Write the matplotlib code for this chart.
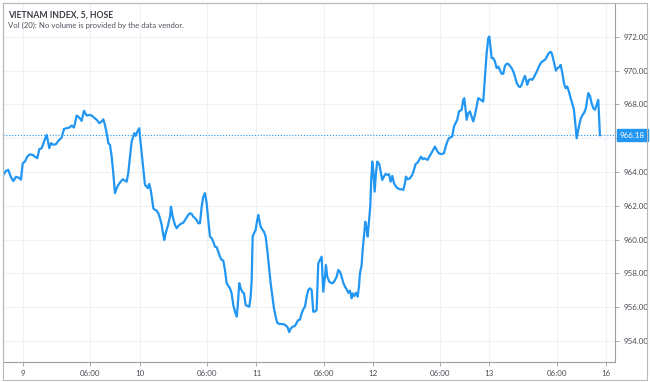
import matplotlib
matplotlib.use("Agg")
import matplotlib.pyplot as plt
from matplotlib.patches import Rectangle

# ---------------- data ----------------
title = "VIETNAM INDEX, 5, HOSE"
subtitle = "Vol (20): No volume is provided by the data vendor."
last_price = 966.18

# time in 5-minute bars (bar 0 = session open of the 9th)
t = [-8.08,-6.97,-6.03,-5.05,-3.98,-2.87,-1.76,-0.82,-0.12,0.82,1.76,2.87,3.98,4.92,5.87,6.69,7.67,8.62,9.72,10.79,
     11.49,12.43,13.54,14.48,15.88,16.82,17.93,19.0,19.98,20.92,22.03,23.10,24.08,25.03,26.13,27.20,28.18,29.13,30.24,31.30,
     32.29,32.94,33.64,34.59,35.0,35.69,36.39,37.05,37.74,38.44,39.10,40.08,40.90,41.85,42.54,43.20,43.90,44.59,45.25,45.66,
     46.24,46.89,47.71,48.0,48.70,49.35,50.05,50.75,51.16,51.81,52.39,52.92,53.46,54.15,54.85,55.51,56.21,56.90,57.56,57.97,
     58.54,59.36,60.31,60.72,61.42,62.36,63.06,63.71,64.70,65.76,66.46,67.16,67.82,68.51,69.21,69.87,70.56,71.26,71.92,72.62,
     73.31,73.97,74.67,75.36,76.02,76.72,77.41,78.07,78.77,79.47,80.12,80.82,81.52,82.18,82.87,83.57,84.23,84.92,85.62,86.28,
     86.97,87.67,88.08,88.74,89.31,89.97,90.67,91.36,92.18,92.84,93.41,93.83,94.24,94.77,95.47,95.88,96.53,96.94,97.52,98.17,
     98.87,99.57,100.23,100.92,101.62,102.28,102.97,103.67,104.33,105.15,106.13,107.08,107.90,108.59,109.25,109.83,110.65,111.59,112.29,112.95,
     113.64,114.34,115.0,115.69,116.39,117.05,117.74,118.44,119.10,119.79,120.49,121.15,121.85,122.54,123.20,123.90,124.31,124.84,125.66,126.65,
     127.30,128.0,128.70,129.36,130.05,130.75,131.41,132.10,132.80,133.46,134.15,134.85,135.26,135.92,136.62,137.31,137.85,138.26,138.95,139.36,
     139.90,140.43,141.01,141.42,141.95,142.48,142.89,143.30,143.71,144.29,144.82,145.35,146.17,146.87,147.41,148.10,148.80,149.46,150.15,150.85,
     151.51,152.21,153.03,153.73,154.67,155.37,156.03,156.72,157.13,157.83,158.77,159.72,160.41,161.11,161.93,162.59,163.28,163.98,164.64,165.33,
     166.03,166.69,167.38,168.33,169.03,169.72,170.38,171.08,172.03,172.72,173.42,174.08,174.77,175.47,176.13,176.82,177.52,178.18,178.87,179.57,
     179.98,180.64,181.05,181.62,182.03,182.69,183.38,184.08,184.74,185.44,186.13,186.79,187.49,188.18,188.84,189.54,190.24,190.90,191.31,191.87,
     192.29,192.95,193.64,194.34,195.0,195.69,196.39,197.05,197.74,198.44,199.10,199.79,200.49,201.15,201.85,202.54,203.20,203.90,204.59,205.25,
     205.95,206.36,206.89,207.59,208.29,208.95,209.64,210.34,211.0,211.69,212.39,213.05,213.74,214.44,215.10,215.79,216.49,216.90,217.31,217.97,
     218.67,219.36,220.02,220.59,221.25,221.95,222.64,223.30,224.0,224.69,225.35,226.05,226.46,226.87,227.16,227.57,228.23,228.92,229.62,230.28,
     230.97,231.51,231.92,232.62,233.31,233.97,234.67,235.36,236.03,236.72]

price = [963.83,964.07,964.13,963.73,963.47,963.71,963.67,963.55,964.52,964.62,964.91,965.05,965.01,964.91,964.82,965.35,965.41,965.80,966.20,965.41,
         965.71,965.61,965.65,965.84,966.04,966.55,966.59,966.63,966.75,966.63,967.34,967.22,967.03,967.62,967.34,967.38,967.34,967.22,967.09,966.89,
         967.00,967.12,966.79,966.10,965.71,965.61,964.91,963.93,962.75,963.04,963.24,963.43,963.57,963.49,963.43,963.93,964.91,965.80,966.10,966.30,
         966.14,966.39,966.59,966.10,965.11,964.13,963.24,963.14,963.04,963.30,962.94,962.45,961.86,961.76,961.72,961.56,961.27,960.87,960.28,959.98,
         960.38,960.77,961.36,961.95,961.36,960.87,960.67,960.81,960.93,961.00,961.16,961.32,961.46,961.56,961.52,961.36,961.27,961.16,960.97,960.97,
         961.95,962.54,962.75,962.15,961.16,960.18,960.08,959.88,959.58,959.55,959.29,958.99,958.80,958.76,958.20,957.42,957.26,957.12,956.82,956.13,
         955.74,955.44,956.03,957.42,957.12,956.92,956.82,956.13,956.07,956.03,956.62,957.61,960.18,960.38,960.57,960.97,961.46,961.16,960.77,960.61,
         960.47,960.18,959.39,958.40,957.42,956.72,955.94,955.44,955.08,955.01,955.01,954.99,954.91,954.81,954.53,954.73,954.85,954.89,955.08,955.24,
         955.27,955.64,955.88,956.03,956.62,957.02,957.12,957.02,955.74,955.74,955.84,958.60,958.80,958.99,956.92,957.81,958.50,957.81,957.51,957.42,
         957.45,957.61,957.81,958.20,958.10,957.81,957.45,957.22,957.06,956.86,956.98,956.53,956.82,956.66,956.86,956.62,957.22,958.01,958.50,959.39,
         960.18,961.06,960.67,960.18,961.06,961.95,963.53,964.62,964.13,962.84,963.93,964.62,964.48,963.93,963.53,963.73,963.89,963.83,963.87,963.43,
         963.77,963.34,963.14,963.04,962.98,962.98,962.94,963.34,963.73,963.57,963.63,963.83,964.13,964.48,964.56,964.72,964.91,964.76,964.82,964.76,
         964.72,964.91,965.07,965.31,965.50,965.31,965.15,965.07,965.07,965.11,965.50,965.80,966.00,966.06,966.10,966.69,966.89,967.09,967.58,967.64,
         967.68,968.27,968.37,967.68,967.09,967.48,967.58,967.28,966.99,967.38,967.87,968.37,968.31,968.23,968.17,969.65,971.04,971.92,972.02,971.33,
         970.74,970.74,970.54,970.15,970.24,970.02,969.81,969.81,970.28,970.40,970.40,970.28,970.15,969.95,969.65,969.29,969.10,969.02,969.16,969.45,
         969.69,969.50,969.16,969.45,969.50,969.45,969.61,969.81,970.00,970.24,970.44,970.54,970.60,970.68,970.88,971.04,971.11,971.04,970.83,970.44,
         970.00,970.15,970.21,970.34,969.89,969.26,968.96,969.06,968.76,968.37,968.07,967.68,967.09,966.49,966.00,966.30,966.79,967.19,967.38,967.52,
         967.78,968.27,968.67,968.51,968.07,967.78,967.68,967.97,968.27,966.18]

x_tick_pos = [0, 27.6, 47.9, 75.5, 95.8, 123.4, 143.6, 171.2, 191.4, 219.0, 239.2]
x_tick_labels = ["9", "06:00", "10", "06:00", "11", "06:00", "12", "06:00", "13", "06:00", "16"]
y_ticks = [954, 956, 958, 960, 962, 964, 966, 968, 970, 972]

# ---------------- style ----------------
W, H = 650, 382
LINE = "#2196f3"
GRID = "#eef1f6"
AXLINE = "#9b9ea6"
TXT = "#4a4d55"
plt.rcParams["font.family"] = ["Lato", "DejaVu Sans"]

fig = plt.figure(figsize=(W / 100, H / 100), dpi=100)
fig.patch.set_facecolor("white")

# plot area in pixel terms
px_l, px_r, px_t, px_b = 3, 615, 3, 362
ax = fig.add_axes([px_l / W, 1 - px_b / H, (px_r - px_l) / W, (px_b - px_t) / H])

ax.plot(t, price, color=LINE, lw=1.6, solid_joinstyle="round", zorder=3)
ax.axhline(last_price, color=LINE, lw=0.8, ls=(0, (1.0, 1.6)), zorder=2)

ax.set_xlim(-8.2, 242.9)
ax.set_ylim(952.76, 974.0)

ax.set_xticks(x_tick_pos)
ax.set_xticklabels(x_tick_labels)
ax.set_yticks(y_ticks)
# the 966.00 label is hidden behind the last-price marker in the original
ax.set_yticklabels(["" if abs(v - last_price) < 0.5 else f"{v:.2f}" for v in y_ticks])
ax.yaxis.tick_right()

ax.grid(True, color=GRID, lw=0.8, zorder=0)
ax.set_axisbelow(True)

ax.tick_params(axis="y", which="both", direction="out", length=3, width=0.6, color=AXLINE,
               labelsize=5.8, labelcolor=TXT, pad=3)
ax.tick_params(axis="x", which="both", direction="out", length=3, width=0.6, color=AXLINE,
               labelsize=5.8, labelcolor=TXT, pad=3)

for side in ["left", "top"]:
    ax.spines[side].set_color("#b8b8b8")
    ax.spines[side].set_linewidth(0.8)
for side in ["right", "bottom"]:
    ax.spines[side].set_color(AXLINE)
    ax.spines[side].set_linewidth(0.8)

# last-price label box
ax.annotate(f"{last_price:.2f}", xy=(1.0, last_price), xycoords=("axes fraction", "data"),
            xytext=(3.5, 0), textcoords="offset points", ha="left", va="center",
            fontsize=5.8, color="white", annotation_clip=False, zorder=10,
            bbox=dict(boxstyle="square,pad=0.35", fc=LINE, ec=LINE))

# outer border
fig.patches.append(Rectangle((px_l / W, 1 - 380 / H), (647 - px_l) / W, (380 - px_t) / H,
                             transform=fig.transFigure, fill=False, ec="#b8b8b8", lw=0.8))

# header text
fig.text(8 / W, 1 - 15 / H, title, fontsize=6.2, fontweight="bold", color="#3a3d45", va="center", ha="left")
fig.text(8 / W, 1 - 25.5 / H, subtitle, fontsize=5.6, color="#50535e", va="center", ha="left")

fig.savefig("out.png", dpi=100, facecolor="white")
